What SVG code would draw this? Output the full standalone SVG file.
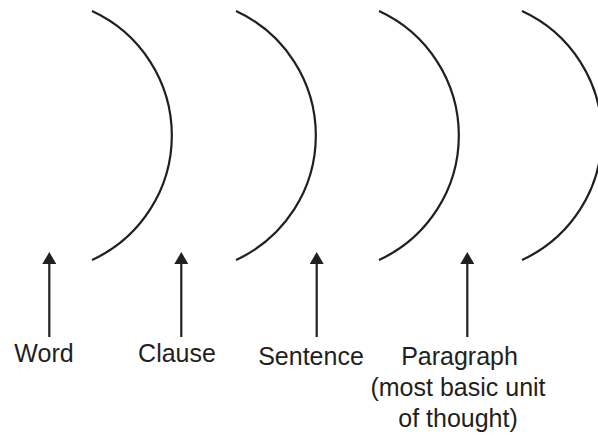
<svg xmlns="http://www.w3.org/2000/svg" width="598" height="439" viewBox="0 0 598 439">
<style>
.arc{fill:none;stroke:#231f20;stroke-width:2.2}
.arr{stroke:#231f20;stroke-width:2.2}
text{font-family:"Liberation Sans",Arial,sans-serif;font-size:25px;fill:#231f20;text-anchor:middle}
</style>
<defs>
<marker id="ah" markerUnits="userSpaceOnUse" markerWidth="14" markerHeight="14" viewBox="0 0 12 14" refX="2" refY="7" orient="auto">
<path d="M0,0 L12,7 L0,14 Z" fill="#231f20"/>
</marker>
</defs>
<g id="arcs">
<g id="arc1"><path class="arc" d="M92,11 A137,137 0 0 1 92,260"/></g>
<g id="arc2"><path class="arc" d="M236,11 A137,137 0 0 1 236,260"/></g>
<g id="arc3"><path class="arc" d="M379,11 A137,137 0 0 1 379,260"/></g>
<g id="arc4"><path class="arc" d="M522,11 A137,137 0 0 1 522,260"/></g>
</g>
<g id="connectors">
<line class="arr" x1="49.3" y1="337" x2="49.3" y2="262" marker-end="url(#ah)"/>
<line class="arr" x1="181.3" y1="337" x2="181.3" y2="262" marker-end="url(#ah)"/>
<line class="arr" x1="316.7" y1="337" x2="316.7" y2="262" marker-end="url(#ah)"/>
<line class="arr" x1="467.3" y1="337" x2="467.3" y2="262" marker-end="url(#ah)"/>
</g>
<g id="word"><text x="44" y="362">Word</text></g>
<g id="clause"><text x="177" y="362">Clause</text></g>
<g id="sentence"><text x="311" y="365">Sentence</text></g>
<g id="paragraph">
<text x="459.5" y="365">Paragraph</text>
<text x="458" y="396">(most basic unit</text>
<text x="458" y="427">of thought)</text>
</g>
</svg>
